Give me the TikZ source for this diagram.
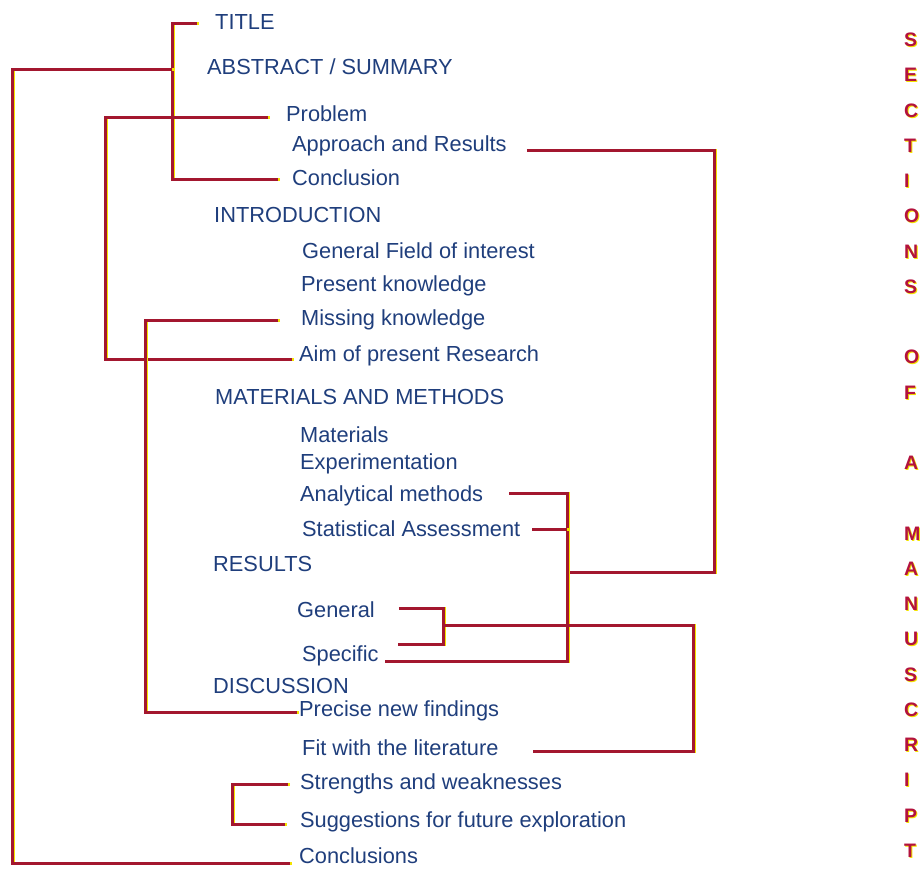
\documentclass[tikz,border=0pt]{standalone}
\usepackage{fontspec}
\setmainfont{Liberation Sans}
\usetikzlibrary{positioning}
\definecolor{itemblue}{HTML}{1F3E7C}
\definecolor{linkred}{HTML}{A3172F}
\definecolor{linkyellow}{HTML}{F4E400}
\definecolor{sidered}{HTML}{B3123E}
\tikzset{
  item/.style={anchor=west, inner sep=0pt, text=itemblue,
    font=\fontsize{21.8}{24}\selectfont},
  link/.style={draw=linkred, line width=3pt},
  linkshade/.style={draw=linkyellow, line width=3pt,
    transform canvas={shift={(1.6pt,-0.8pt)}}},
  sideletter/.style={anchor=west, inner sep=0pt, text=sidered,
    font=\fontsize{19.5}{22}\selectfont\bfseries},
}
% red link with its yellow shade
\newcommand\linkpath[1]{\draw[linkshade] #1; \draw[link] #1;}
\begin{document}
\begin{tikzpicture}[x=1pt, y=-1pt]
                    \useasboundingbox (0,0) rectangle (924,868);
                    % Sections
                    \node[item] (title)       at (215,22)  {TITLE};
                    \node[item] (abstract)    at (207,67)  {ABSTRACT / SUMMARY};
                    \node[item] (problem)     at (286,114) {Problem};
                    \node[item] (approach)    at (292,146) {Approach and Results};
                    \node[item] (concl)       at (292,178) {Conclusion};
                    \node[item] (intro)       at (214,215) {INTRODUCTION};
                    \node[item] (field)       at (302,251) {General Field of interest};
                    \node[item] (present)     at (301,286) {Present knowledge};
                    \node[item] (missing)     at (301,320) {Missing knowledge};
                    \node[item] (aim)         at (299,356) {Aim of present Research};
                    \node[item] (methods)     at (215,397) {MATERIALS AND METHODS};
                    \node[item] (materials)   at (300,435) {Materials};
                    \node[item] (experiment)  at (300,464) {Experimentation};
                    \node[item] (analytical)  at (300,496) {Analytical methods};
                    \node[item] (statistical) at (302,529) {Statistical Assessment};
                    \node[item] (results)     at (213,564) {RESULTS};
                    \node[item] (general)     at (297,610) {General};
                    \node[item] (specific)    at (302,656) {Specific};
                    \node[item] (discussion)  at (213,686) {DISCUSSION};
                    \node[item] (precise)     at (299,711) {Precise new findings};
                    \node[item] (fit)         at (302,748) {Fit with the literature};
                    \node[item] (strengths)   at (300,784) {Strengths and weaknesses};
                    \node[item] (suggestions) at (300,822) {Suggestions for future exploration};
                    \node[item] (conclusions) at (299,856) {Conclusions};
                    % Spines
                    \coordinate (outer)   at (12,0);
                    \coordinate (probsp)  at (105,0);
                    \coordinate (misssp)  at (145,0);
                    \coordinate (abssp)   at (172,0);
                    \coordinate (strsp)   at (232,0);
                    \coordinate (resjoin) at (567,572);
                    \coordinate (appjoin) at (714,572);
                    \coordinate (genjoin) at (443,625);
                    \coordinate (genbot)  at (398,644);
                    \coordinate (fitsp)   at (693,0);
                    % Left links
                    \linkpath{([xshift=-18pt,yshift=-1pt]title.west) -- ([yshift=-1pt]title.west -| abssp)
                       -- ([yshift=-1pt]concl.west -| abssp) -- ([xshift=-14pt,yshift=-1pt]concl.west)}
                    \linkpath{([yshift=-2pt]abstract.west -| abssp) -- ([yshift=-2pt]abstract.west -| outer)
                       -- ([yshift=-7pt]conclusions.west -| outer) -- ([xshift=-9pt,yshift=-7pt]conclusions.west)}
                    \linkpath{([xshift=-18pt,yshift=-3pt]problem.west) -- ([yshift=-3pt]problem.west -| probsp)
                       -- ([yshift=-3pt]aim.west -| probsp) -- ([xshift=-7pt,yshift=-3pt]aim.west)}
                    \linkpath{([xshift=-23pt]missing.west) -- (missing.west -| misssp)
                       -- ([yshift=-1pt]precise.west -| misssp) -- ([xshift=-2pt,yshift=-1pt]precise.west)}
                    \linkpath{([xshift=-12pt]strengths.west) -- (strengths.west -| strsp)
                       -- ([yshift=-2pt]suggestions.west -| strsp) -- ([xshift=-15pt,yshift=-2pt]suggestions.west)}
                    % Right links
                    \linkpath{([xshift=20pt,yshift=-4pt]approach.east) -| (appjoin) -- (resjoin)}
                    \linkpath{([xshift=26pt,yshift=3pt]analytical.east) -- ([yshift=3pt]analytical.east -| resjoin)
                       -- ([yshift=-5pt]specific.east -| resjoin) -- ([xshift=6pt,yshift=-5pt]specific.east)}
                    \linkpath{([xshift=12pt]statistical.east) -- (statistical.east -| resjoin)}
                    \linkpath{([xshift=24pt,yshift=2pt]general.east) -- ([yshift=2pt]general.east -| genjoin)
                       -- (genjoin |- genbot) -- (genbot)}
                    \linkpath{(genjoin) -- (genjoin -| fitsp)
                       -- ([yshift=-3pt]fit.east -| fitsp) -- ([xshift=34pt,yshift=-3pt]fit.east)}
                    % Side title
                    \foreach \ch/\k in {S/0,E/1,C/2,T/3,I/4,O/5,N/6,S/7,O/9,F/10,A/12,
                                        M/14,A/15,N/16,U/17,S/18,C/19,R/20,I/21,P/22,T/23}{
                      \node[sideletter, text=linkyellow] at (905,41+35.25*\k) {\ch};
                      \node[sideletter] (side-\k) at (904,40+35.25*\k) {\ch};
                    }
                \end{tikzpicture}
\end{document}
